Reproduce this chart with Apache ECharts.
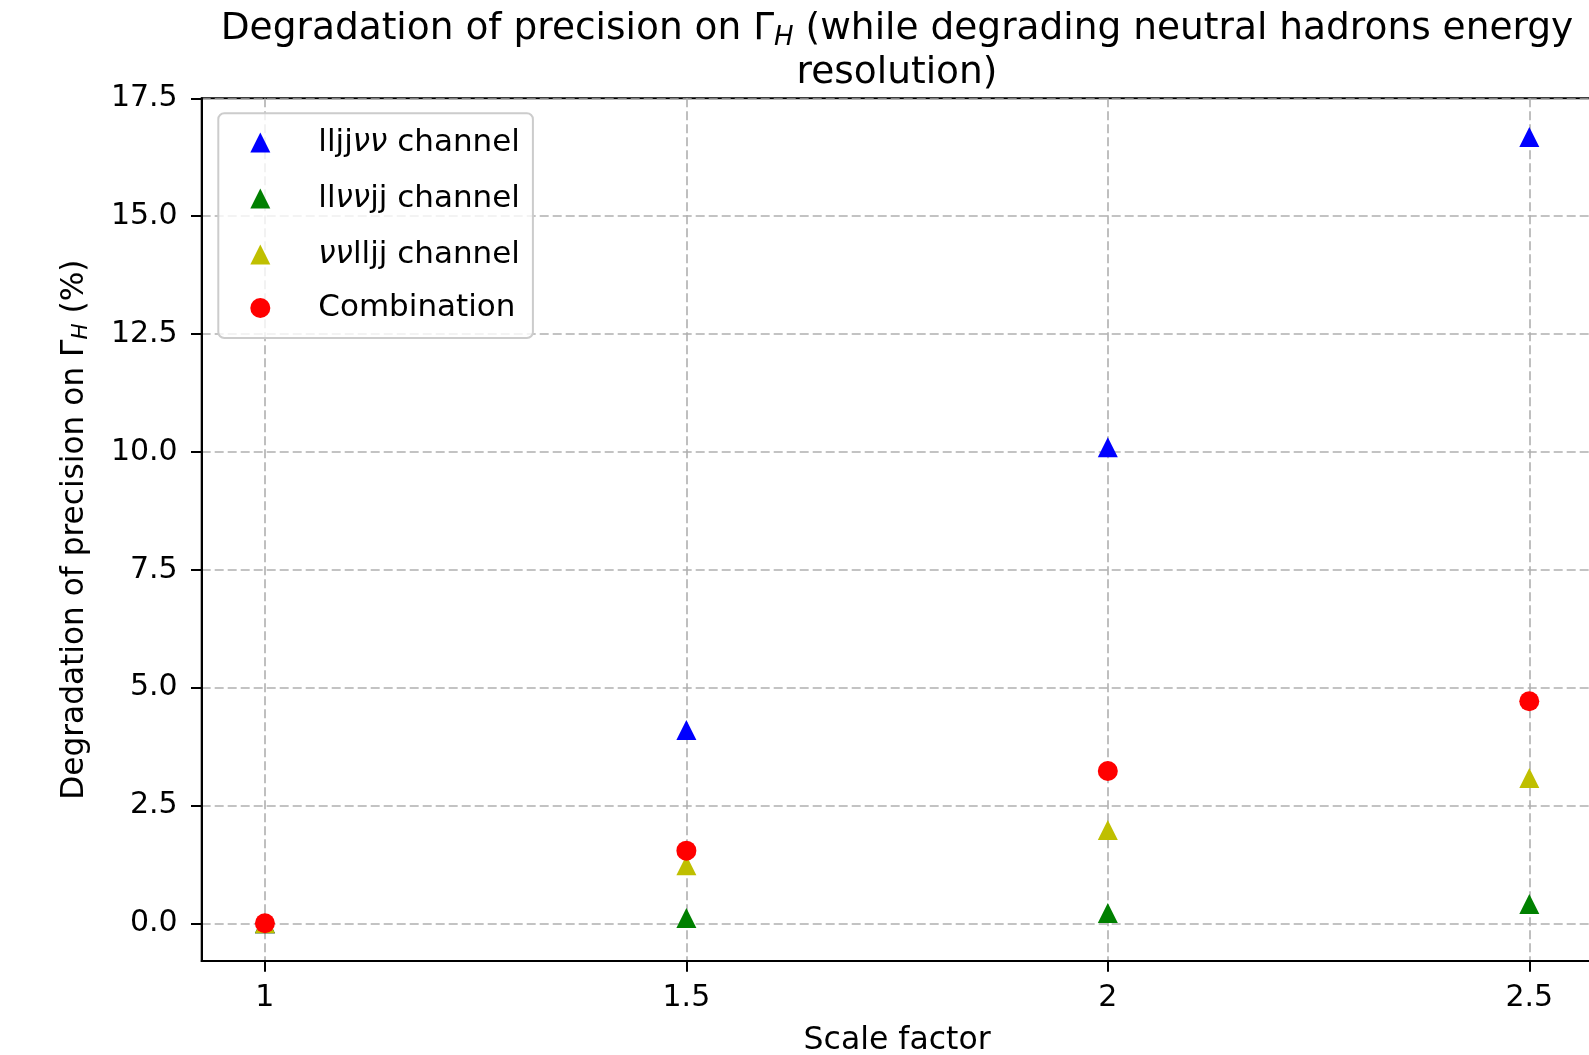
<!DOCTYPE html>
<html>
<head>
<meta charset="utf-8">
<script src="https://cdn.jsdelivr.net/npm/echarts@6/dist/echarts.min.js"></script>
<style>html,body{margin:0;padding:0;background:#fff}#c{width:1589px;height:1055px}</style>
</head>
<body>
<div id="c"></div>
<script>
const scaleFactors = [1, 1.5, 2, 2.5];
const lljjnunu = [0, 4.10, 10.10, 16.68];
const llnunujj = [0, 0.11, 0.22, 0.41];
const nunulljj = [0, 1.23, 1.98, 3.08];
const combination = [0, 1.54, 3.23, 4.71];
const xTicks = [1, 1.5, 2, 2.5];
const yTicks = [0, 2.5, 5, 7.5, 10, 12.5, 15, 17.5];
const seriesNames = ['lljjνν channel', 'llννjj channel', 'ννlljj channel', 'Combination'];
const seriesColors = ['#0000ff', '#008000', '#bfbf00', '#ff0000'];
const seriesSymbols = ['triangle', 'triangle', 'triangle', 'circle'];
const seriesValues = [lljjnunu, llnunujj, nunulljj, combination];

const FONT = 'DejaVu Sans';
const chart = echarts.init(document.getElementById('c'), null, {renderer: 'canvas'});

const series = seriesNames.map((n, i) => ({
  name: n,
  type: 'scatter',
  symbol: seriesSymbols[i],
  symbolSize: 20,
  itemStyle: {color: seriesColors[i], opacity: 1},
  data: scaleFactors.map((x, j) => [x, seriesValues[i][j]]),
  z: 3 + i
}));

chart.setOption({
  animation: false,
  backgroundColor: '#ffffff',
  textStyle: {fontFamily: FONT, color: '#000'},
  grid: {left: 201.7, top: 98.3, right: -3.5, bottom: 94, show: true, borderColor: '#000', borderWidth: 2,
    backgroundColor: 'transparent', containLabel: false, outerBoundsMode: 'none'},
  xAxis: {
    type: 'value', min: 0.925, max: 2.575,
    name: 'Scale factor', nameLocation: 'middle', nameGap: 64,
    nameTextStyle: {fontSize: 31.5, fontFamily: FONT, color: '#000'},
    axisLine: {show: true, onZero: false, lineStyle: {color: '#000', width: 2}},
    axisTick: {show: true, inside: false, length: 10.7, customValues: xTicks, lineStyle: {color: '#000', width: 2}},
    axisLabel: {customValues: xTicks, fontSize: 30, fontFamily: FONT, color: '#000', margin: 22},
    splitLine: {show: true, lineStyle: {color: '#b0b0b0', width: 1.6, type: [9, 4]}}
  },
  yAxis: {
    type: 'value', min: -0.8, max: 17.5,
    name: 'Degradation of precision on Γ{s|H} (%)', nameLocation: 'middle', nameGap: 109,
    nameTextStyle: {fontSize: 31.2, fontFamily: FONT, color: '#000', lineHeight: 36,
      rich: {s: {fontSize: 21.5, fontStyle: 'italic', fontFamily: FONT, verticalAlign: 'bottom', lineHeight: 17}}},
    axisLine: {show: true, onZero: false, lineStyle: {color: '#000', width: 2}},
    axisTick: {show: true, inside: false, length: 10.7, customValues: yTicks, lineStyle: {color: '#000', width: 2}},
    axisLabel: {customValues: yTicks, fontSize: 30, fontFamily: FONT, color: '#000', margin: 24,
      formatter: v => v.toFixed(1)},
    splitLine: {show: true, lineStyle: {color: '#b0b0b0', width: 1.6, type: [9, 4]}}
  },
  legend: {
    orient: 'vertical', left: 218.3, top: 113.3,
    padding: [11.2, 13, 14.5, 32],
    itemWidth: 20, itemHeight: 20, itemGap: 20,
    backgroundColor: 'rgba(255,255,255,0.8)', borderColor: '#cccccc', borderWidth: 2, borderRadius: 6,
    data: seriesNames,
    formatter: name => name === 'Combination' ? '{c|' + name + '}' : name.replace(/νν/, '{i|νν}'),
    textStyle: {fontSize: 31, fontFamily: FONT, color: '#000', lineHeight: 36, padding: [0, 0, 0, 43],
      rich: {
        i: {fontSize: 31, fontStyle: 'italic', fontFamily: FONT, color: '#000', lineHeight: 36},
        c: {fontSize: 31, fontFamily: FONT, color: '#000', lineHeight: 19}
      }}
  },
  graphic: [{
    type: 'text', z: 100,
    x: 897, y: 51.5,
    style: {
      text: 'Degradation of precision on Γ{s|H} (while degrading neutral hadrons energy\nresolution)',
      x: 0, y: 0,
      align: 'center', verticalAlign: 'middle',
      fontSize: 37.5, fontFamily: FONT, fill: '#000', lineHeight: 44,
      rich: {s: {fontSize: 26, fontStyle: 'italic', fontFamily: FONT, verticalAlign: 'bottom', lineHeight: 20, fill: '#000'}}
    }
  }],
  series: series
});
</script>
</body>
</html>
